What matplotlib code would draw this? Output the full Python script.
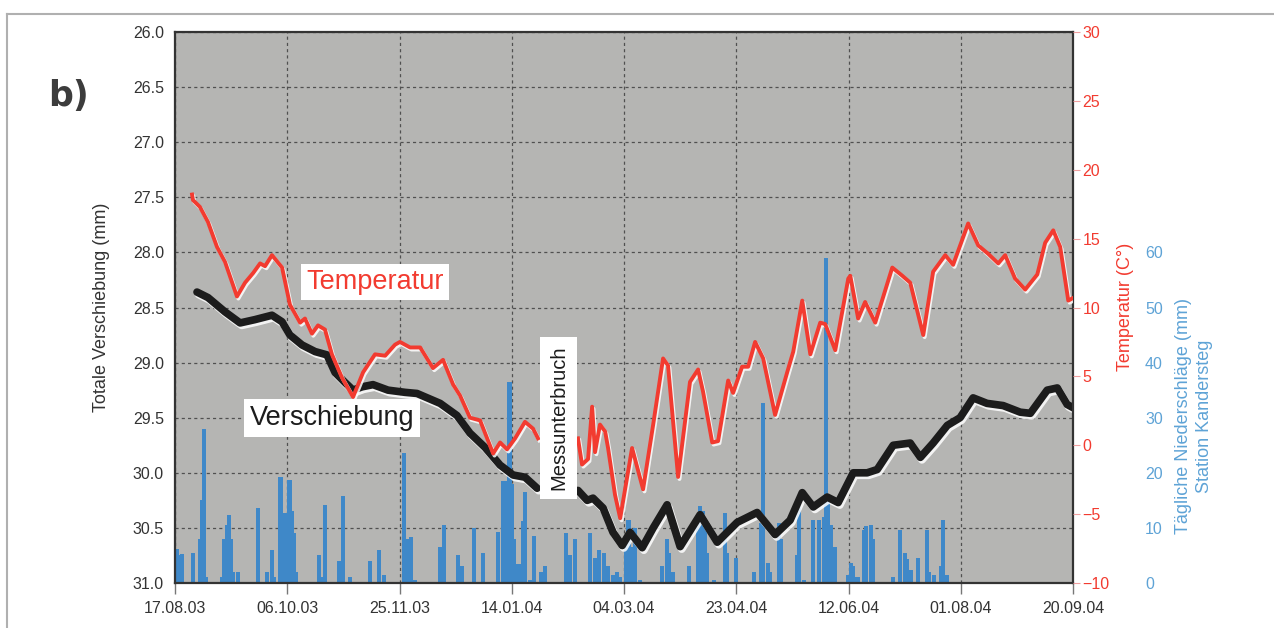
import numpy as np
import pandas as pd
import matplotlib
matplotlib.use("Agg")
import matplotlib.pyplot as plt
import matplotlib.patheffects as pe
from matplotlib.lines import Line2D

plt.rcParams['font.family'] = ['Liberation Sans', 'DejaVu Sans']

# ---------------- data ----------------
start_date = "2003-08-17"
tick_step_days = 50
n_ticks = 9

# temperature (day offset from start, deg C); NaN = measurement gap
temp_days = [7.6, 8.0, 11.1, 14.7, 18.7, 22.3, 27.6, 31.2, 34.8, 37.9, 40.1, 43.2, 47.7,
             51.2, 55.7, 57.9, 61.0, 63.7, 66.8, 69.9, 74.4, 79.3, 83.8, 89.1, 93.6, 98.0,
             100.2, 104.7, 109.2, 114.9, 119.4, 123.9, 127.0, 131.4, 135.9, 141.7, 144.8,
             147.9, 151.5, 155.9, 159.5, 161.7, 170.0,
             179.5, 181.3, 184.0, 185.8, 187.1, 189.3, 191.6, 192.9, 196.0, 198.3, 203.6,
             208.5, 213.0, 217.4, 219.6, 224.1, 229.4, 233.0, 235.2, 239.3, 241.9, 246.4,
             248.6, 252.6, 255.3, 258.4, 262.0, 267.3, 272.7, 275.4, 279.4, 283.0, 287.4,
             289.6, 294.1, 299.9, 300.8, 304.3, 307.4, 311.9, 319.5, 324.0, 327.5, 333.3,
             337.7, 343.1, 346.6, 353.3, 357.8, 362.2, 366.7, 369.8, 374.2, 378.7, 384.1,
             387.6, 391.2, 394.3, 397.9, 400.1]
temp_vals = [18.2, 17.8, 17.3, 16.2, 14.4, 13.3, 10.8, 11.8, 12.5, 13.2, 13.0, 13.8, 12.9,
             10.2, 8.9, 9.2, 8.1, 8.7, 8.4, 6.6, 4.9, 3.5, 5.3, 6.6, 6.5, 7.3,
             7.5, 7.1, 7.1, 5.6, 6.2, 4.4, 3.6, 2.0, 1.8, -0.6, 0.2,
             -0.3, 0.5, 1.7, 1.2, 0.5, np.nan,
             0.5, -1.4, -1.0, 2.8, -0.5, 1.5, 1.0, -0.2, -3.6, -5.3, -0.2,
             -3.2, 1.5, 6.3, 5.8, -2.3, 4.6, 5.5, 3.9, 0.2, 0.3, 4.7,
             3.8, 5.7, 5.7, 7.5, 6.3, 2.2, 5.3, 6.8, 10.5, 6.6, 8.9,
             8.8, 6.9, 12.1, 12.3, 9.2, 10.4, 8.9, 12.9, 12.3, 11.8, 8.0,
             12.6, 13.8, 13.1, 16.1, 14.5, 13.9, 13.2, 13.8, 12.1, 11.3, 12.4,
             14.7, 15.6, 14.4, 10.5, 10.7]

# total displacement (day offset, mm)
disp_days = [9.8, 14.7, 22.3, 29.0, 35.6, 43.2, 47.7, 51.2, 56.6, 62.4, 67.7, 71.3, 75.7,
             79.3, 83.3, 88.2, 94.9, 102.5, 107.8, 118.1, 125.6, 131.4, 138.1, 144.8,
             150.6, 155.9, 161.3, 170.0,
             179.5, 183.6, 186.2, 190.7, 195.1, 199.2, 202.7, 208.1, 213.0, 219.2, 225.0,
             233.9, 241.5, 250.4, 259.3, 267.3, 274.0, 279.4, 284.3, 290.5, 295.4, 302.1,
             308.3, 312.8, 319.9, 327.5, 332.0, 337.7, 344.0, 349.7, 355.5, 361.7, 368.9,
             376.5, 381.0, 388.5, 393.0, 397.4, 400.1]
disp_vals = [28.36, 28.41, 28.54, 28.64, 28.61, 28.57, 28.63, 28.75, 28.84, 28.90, 28.93,
             29.09, 29.18, 29.25, 29.22, 29.20, 29.25, 29.27, 29.28, 29.37, 29.48, 29.64,
             29.77, 29.93, 30.02, 30.04, 30.14, np.nan,
             30.16, 30.25, 30.23, 30.32, 30.54, 30.66, 30.54, 30.68, 30.50, 30.29, 30.67,
             30.38, 30.63, 30.45, 30.36, 30.56, 30.43, 30.18, 30.31, 30.22, 30.27, 30.00,
             30.00, 29.97, 29.75, 29.73, 29.86, 29.73, 29.57, 29.50, 29.32, 29.37, 29.39,
             29.45, 29.46, 29.25, 29.23, 29.38, 29.41]

# daily precipitation, station Kandersteg (day offset, mm)
precip_days = [1, 2, 3, 8, 11, 12, 13, 14, 21, 22, 23, 24, 25, 26, 28,
               37, 41, 43, 44, 47, 48, 49, 51, 52, 53, 54,
               64, 66, 67, 73, 75, 78, 87, 91, 93,
               102, 104, 105, 107, 118, 120, 126, 128, 133, 137,
               144, 146, 148, 149, 150, 151, 152, 153, 155, 156, 158, 160, 163, 165,
               174, 176, 178, 185, 187, 189, 191, 193, 195, 197, 198,
               201, 202, 204, 205, 207, 217, 219, 220, 222, 229, 233, 234, 235, 236, 237, 240,
               245, 246, 250, 258, 261, 262, 264, 265, 269, 270,
               277, 278, 280, 284, 287, 289, 290, 291, 292, 294,
               300, 301, 302, 304, 307, 308, 310, 311, 320, 323, 325, 326, 328, 331,
               335, 336, 338, 341, 342, 344]
precip_mm = [6.2, 5.0, 5.2, 5.5, 8, 15, 28, 1, 1, 8, 10.5, 12.4, 8, 2, 2,
             13.6, 2, 6, 1, 19.3, 12, 12.7, 18.7, 13, 9, 2,
             5, 1, 14.2, 4, 15.8, 1, 4, 6, 1.5,
             23.6, 8, 8.3, 0.5, 6.6, 10.5, 5, 3, 9.9, 5.5,
             9.3, 18.5, 18.5, 36.5, 18, 8, 3, 3.5, 11.2, 16.5, 0.5, 8.6, 2, 3,
             9, 5, 8, 9, 4.5, 6, 5.5, 3, 1.5, 2, 1,
             6.6, 11.5, 6.6, 10, 0.5, 3, 8, 5.5, 2, 3, 10.2, 13.9, 13, 10, 5.5, 0.5,
             12.7, 5.5, 4.5, 2, 10.9, 32.7, 3.6, 2, 10.9, 8,
             5, 14.2, 0.5, 11.5, 11.5, 12, 59, 14.8, 10.5, 6.5,
             1.5, 3.6, 3, 1, 9.7, 10.3, 10.6, 8, 1, 9.7, 5.5, 4.3, 2.4, 4.5,
             9.7, 2, 1.5, 3, 11.5, 1.5]

disp_ticks = [26.0, 26.5, 27.0, 27.5, 28.0, 28.5, 29.0, 29.5, 30.0, 30.5, 31.0]
temp_ticks = [-10, -5, 0, 5, 10, 15, 20, 25, 30]
precip_ticks = [0, 10, 20, 30, 40, 50, 60]

# ---------------- helpers ----------------
t0 = pd.Timestamp(start_date)
def to_dates(days):
    return t0 + pd.to_timedelta(np.asarray(days, dtype=float), unit="D")

tick_dates = [t0 + pd.Timedelta(days=tick_step_days * k) for k in range(n_ticks)]
tick_labels = [d.strftime("%d.%m.%y") for d in tick_dates]

# ---------------- figure ----------------
W, H = 1274, 628
fig = plt.figure(figsize=(W / 100, H / 100), dpi=100)
fig.patch.set_facecolor("white")

L, R, T, B = 175, 1073, 32, 583
rect = [L / W, (H - B) / H, (R - L) / W, (B - T) / H]

ax3 = fig.add_axes(rect)           # precipitation + background + grid
ax = fig.add_axes(rect, sharex=ax3)  # displacement
ax2 = fig.add_axes(rect, sharex=ax3)  # temperature
ax3.set_zorder(0)
ax.set_zorder(1)
ax2.set_zorder(2)
ax.patch.set_visible(False)
ax2.patch.set_visible(False)
ax3.set_facecolor("#b5b5b3")

dark = "#333333"
red = "#f23b30"
blue = "#3f88c8"
bluetxt = "#5ea3d6"

# bars
ax3.bar(to_dates(precip_days), precip_mm, width=1.8, color=blue, align="center",
        linewidth=0, zorder=2)
ax3.set_ylim(0, 100)
ax3.set_yticks(list(range(0, 101, 10)))
ax3.set_yticklabels([str(v) if v in precip_ticks else "" for v in range(0, 101, 10)])
ax3.yaxis.tick_right()
ax3.tick_params(axis="y", length=0, pad=72 / 1.389, labelsize=11.5, labelcolor=bluetxt)
ax3.grid(True, axis="both", color="#505050", linestyle=(0, (2.5, 2.5)), linewidth=0.9, zorder=1)
ax3.set_axisbelow(True)
ax3.tick_params(axis="x", which="both", length=0, labelbottom=False)
for s in ax3.spines.values():
    s.set_visible(False)

# displacement
shadow = [pe.SimpleLineShadow(offset=(1.2, -1.8), shadow_color="white", alpha=0.85),
          pe.Normal()]
ax.plot(to_dates(disp_days), disp_vals, color="#1c1c1c", lw=5.5,
        solid_joinstyle="round", solid_capstyle="round", path_effects=shadow)
ax.set_ylim(31.0, 26.0)
ax.set_yticks(disp_ticks)
ax.set_yticklabels([f"{v:.1f}" for v in disp_ticks])
ax.tick_params(axis="y", length=0, pad=8, labelsize=11.5, labelcolor=dark)
ax.set_xlim(tick_dates[0], tick_dates[-1])
ax.set_xticks(tick_dates)
ax.set_xticklabels(tick_labels)
ax.tick_params(axis="x", length=8, width=1, color="#777777", pad=5, labelsize=11.5,
               labelcolor=dark)
for s in ax.spines.values():
    s.set_color(dark)
    s.set_linewidth(1.6)

# temperature
shadow_r = [pe.SimpleLineShadow(offset=(1.0, -1.5), shadow_color="white", alpha=0.85),
            pe.Normal()]
ax2.plot(to_dates(temp_days), temp_vals, color=red, lw=2.8,
         solid_joinstyle="round", path_effects=shadow_r)
ax2.set_ylim(-10, 30)
ax2.set_yticks(temp_ticks)
ax2.yaxis.tick_right()
ax2.tick_params(axis="y", length=5, width=0.8, color="#f0a0a0", pad=2, labelsize=11.5,
                labelcolor=red)
ax2.tick_params(axis="x", which="both", length=0, labelbottom=False)
for s in ax2.spines.values():
    s.set_visible(False)

# annotations
ax2.text(0.2227, 0.546, "Temperatur", transform=ax2.transAxes, ha="center", va="center",
         fontsize=19.5, color=red,
         bbox=dict(boxstyle="square,pad=0.18", fc="white", ec="none"), zorder=5)
ax2.text(0.175, 0.2995, "Verschiebung", transform=ax2.transAxes, ha="center", va="center",
         fontsize=19.5, color="#1c1c1c",
         bbox=dict(boxstyle="square,pad=0.22", fc="white", ec="none"), zorder=5)
ax2.text(0.427, 0.2995, "Messunterbruch", transform=ax2.transAxes, ha="center", va="center",
         rotation=90, fontsize=14.5, color="#1c1c1c",
         bbox=dict(boxstyle="square,pad=0.45", fc="white", ec="none"), zorder=5)

# axis titles
fig.text(101 / W, 1 - 307 / H, "Totale Verschiebung (mm)", rotation=90, ha="center",
         va="center", fontsize=13, color=dark)
fig.text(1125 / W, 1 - 307 / H, "Temperatur (C°)", rotation=90, ha="center",
         va="center", fontsize=13, color=red)
fig.text(1194 / W, 1 - 416 / H, "Tägliche Niederschläge (mm)\nStation Kandersteg",
         rotation=90, ha="center", va="center", fontsize=13, color=bluetxt,
         multialignment="center", linespacing=1.25)
fig.text(48 / W, 1 - 96 / H, "b)", ha="left", va="center", fontsize=25,
         fontweight="bold", color="#3c3c3c", family=["DejaVu Sans"])

# page frame
fig.add_artist(Line2D([7 / W, 1.0], [1 - 14 / H, 1 - 14 / H], transform=fig.transFigure,
                      color="#b0b0b0", lw=1.5))
fig.add_artist(Line2D([7 / W, 7 / W], [0, 1 - 14 / H], transform=fig.transFigure,
                      color="#b0b0b0", lw=1.5))

fig.savefig("out.png", dpi=100, facecolor="white")
